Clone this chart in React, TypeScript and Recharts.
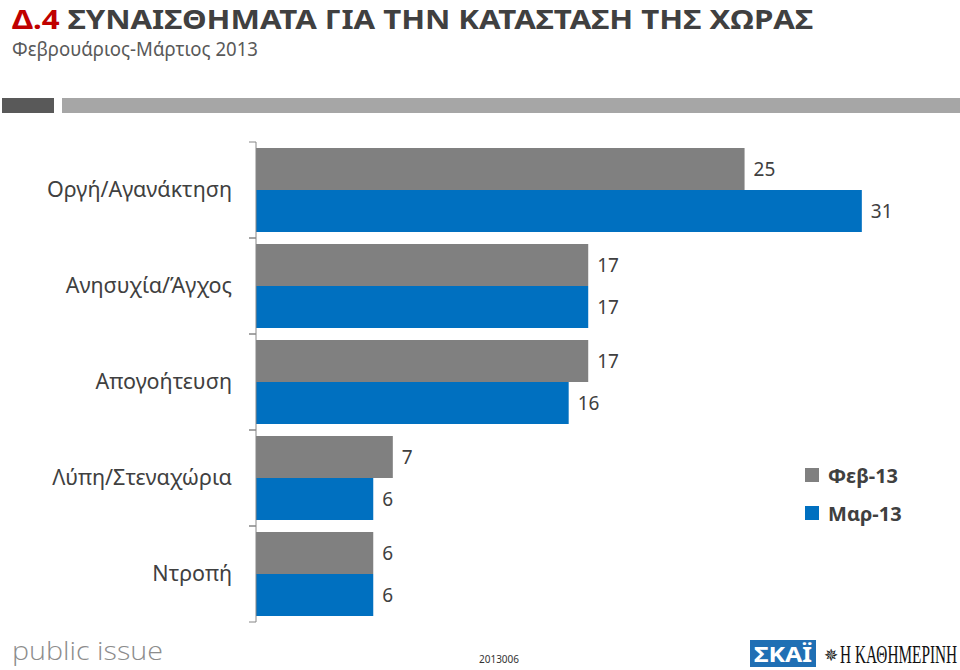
import { Bar, BarChart, LabelList, Legend, XAxis, YAxis } from "recharts";

const categories = [
  "Οργή/Αγανάκτηση",
  "Ανησυχία/Άγχος",
  "Απογοήτευση",
  "Λύπη/Στεναχώρια",
  "Ντροπή",
];
const feb13 = [25, 17, 17, 7, 6];
const mar13 = [31, 17, 16, 6, 6];
const seriesNames = ["Φεβ-13", "Μαρ-13"];

const data = categories.map((name, i) => ({ name, feb: feb13[i], mar: mar13[i] }));

const FONT = "'Noto Sans', 'Open Sans', sans-serif";
const TEXT = "#404040";
const GREY = "#808080";
const BLUE = "#0070c0";

const CategoryTick = (props: any) => {
  const { y, payload } = props;
  return (
    <g>
      <line x1={249} x2={256} y1={y - 48} y2={y - 48} stroke="#868686" />
      <line x1={249} x2={256} y1={y + 48} y2={y + 48} stroke="#868686" />
      <text
        x={232}
        y={y}
        dy={7}
        textAnchor="end"
        fill={TEXT}
        fontSize={21.5}
        fontFamily={FONT}
      >
        {payload.value}
      </text>
    </g>
  );
};

const LegendBox = () => (
  <div style={{ fontFamily: FONT, fontWeight: 700, fontSize: 20, color: TEXT }}>
    {seriesNames.map((s, i) => (
      <div key={s} style={{ display: "flex", alignItems: "center", height: 38 }}>
        <span
          style={{
            width: 14,
            height: 14,
            background: i === 0 ? GREY : BLUE,
            marginRight: 9,
            display: "inline-block",
          }}
        />
        {s}
      </div>
    ))}
  </div>
);

export default function App() {
  return (
    <div
      style={{
        position: "absolute",
        left: 0,
        top: 0,
        width: 960,
        height: 670,
        background: "#fff",
        overflow: "hidden",
      }}
    >
      <svg width={960} height={670} style={{ position: "absolute", left: 0, top: 0 }}>
        <text
          x={12}
          y={29}
          fontFamily={FONT}
          fontWeight={700}
          fontSize={27}
          textLength={801}
          lengthAdjust="spacingAndGlyphs"
        >
          <tspan fill="#c00000">Δ.4</tspan>
          <tspan fill={TEXT}> ΣΥΝΑΙΣΘΗΜΑΤΑ ΓΙΑ ΤΗΝ ΚΑΤΑΣΤΑΣΗ ΤΗΣ ΧΩΡΑΣ</tspan>
        </text>
        <text
          x={12}
          y={56}
          fill="#595959"
          fontFamily={FONT}
          fontSize={19}
          textLength={246}
          lengthAdjust="spacingAndGlyphs"
        >
          Φεβρουάριος-Μάρτιος 2013
        </text>
        <rect x={2} y={98} width={52} height={15} fill="#595959" />
        <rect x={62} y={98} width={898} height={15} fill="#a6a6a6" />

        <text
          x={12}
          y={660}
          fill="#8c8c8c"
          fontFamily="'Open Sans', sans-serif"
          fontWeight={300}
          fontSize={26}
          textLength={151}
          lengthAdjust="spacingAndGlyphs"
        >
          public issue
        </text>
        <text
          x={499}
          y={663}
          textAnchor="middle"
          fill="#333"
          fontFamily={FONT}
          fontSize={10}
        >
          2013006
        </text>
        <rect x={750} y={640} width={66} height={27} fill="#1f6fb4" />
        <text
          x={783}
          y={662}
          textAnchor="middle"
          fill="#fff"
          fontFamily={FONT}
          fontWeight={700}
          fontSize={22}
          textLength={58}
          lengthAdjust="spacingAndGlyphs"
        >
          ΣΚΑΪ
        </text>
        <text x={824} y={661} fill="#111" fontFamily="'DejaVu Sans', sans-serif" fontSize={17}>
          ✵
        </text>
        <g transform="translate(840,663) scale(0.61,1)">
          <text
            x={0}
            y={0}
            fill="#111"
            fontFamily="'Liberation Serif', serif"
            fontSize={25}
            textLength={192}
            lengthAdjust="spacingAndGlyphs"
          >
            Η ΚΑΘΗΜΕΡΙΝΗ
          </text>
        </g>
      </svg>

      <div style={{ position: "absolute", left: 0, top: 0 }}>
        <BarChart
          width={960}
          height={670}
          data={data}
          layout="vertical"
          margin={{ top: 142, right: 20, bottom: 48, left: 0 }}
          barCategoryGap={6}
          barGap={0}
        >
          <XAxis type="number" domain={[0, 35]} hide />
          <YAxis
            type="category"
            dataKey="name"
            width={256}
            axisLine={{ stroke: "#868686" }}
            tickLine={false}
            tick={<CategoryTick />}
            interval={0}
          />
          <Legend
            layout="horizontal"
            verticalAlign="middle"
            align="center"
            wrapperStyle={{ left: 805, top: 456, width: 140 }}
            content={<LegendBox />}
          />
          <Bar dataKey="feb" name={seriesNames[0]} fill={GREY} isAnimationActive={false}>
            <LabelList
              dataKey="feb"
              position="right"
              offset={9}
              fill={TEXT}
              fontSize={19}
              fontFamily={FONT}
            />
          </Bar>
          <Bar dataKey="mar" name={seriesNames[1]} fill={BLUE} isAnimationActive={false}>
            <LabelList
              dataKey="mar"
              position="right"
              offset={9}
              fill={TEXT}
              fontSize={19}
              fontFamily={FONT}
            />
          </Bar>
        </BarChart>
      </div>
    </div>
  );
}
